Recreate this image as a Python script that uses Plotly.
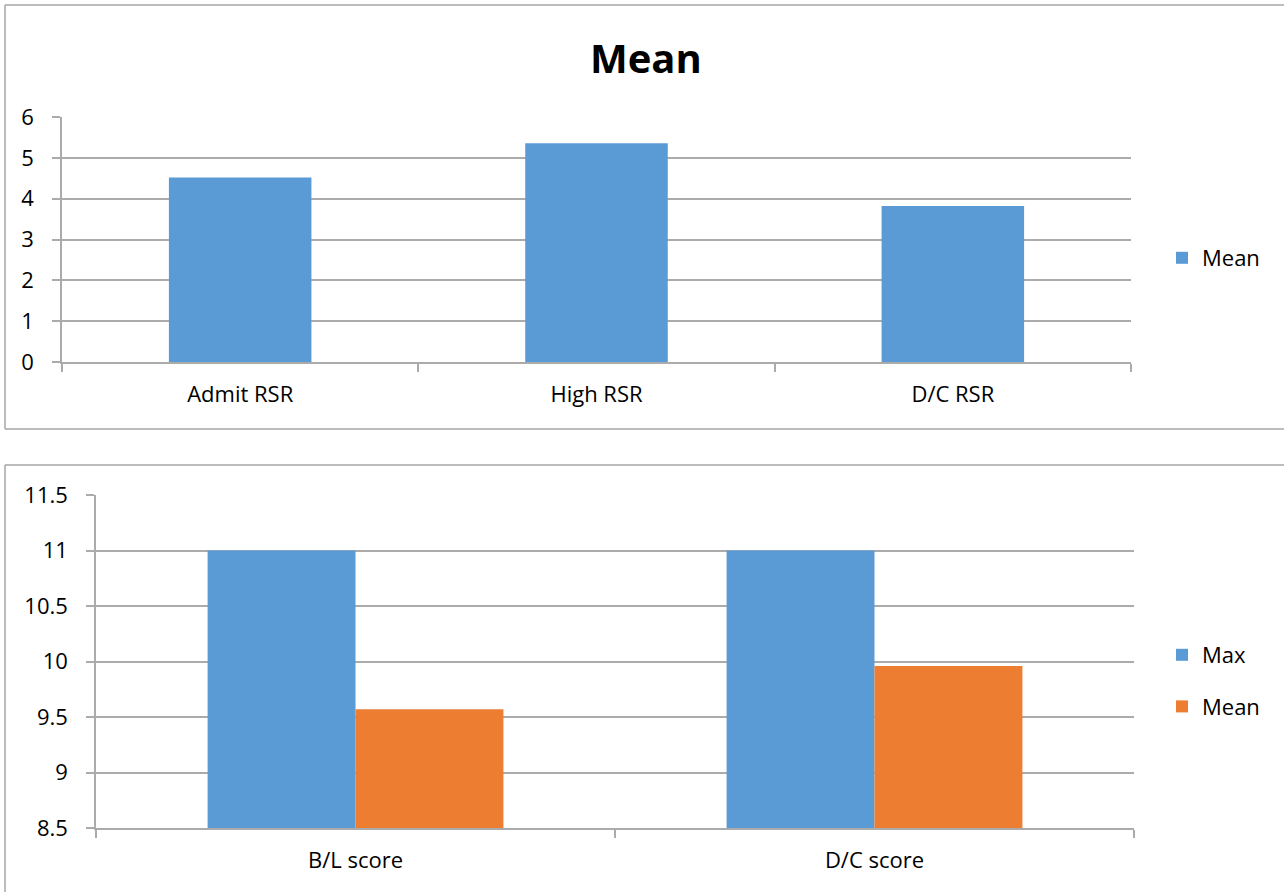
import plotly.graph_objects as go

# Top chart data
top_categories = ["Admit RSR", "High RSR", "D/C RSR"]
top_mean = [4.52, 5.36, 3.82]
top_ticks = [0, 1, 2, 3, 4, 5, 6]

# Bottom chart data
bottom_categories = ["B/L score", "D/C score"]
bottom_max = [11, 11]
bottom_mean = [9.57, 9.96]
bottom_ticks = [8.5, 9, 9.5, 10, 10.5, 11, 11.5]

W, H = 1284, 892
BLUE = "#5b9bd5"
ORANGE = "#ed7d31"
GRID = "#ababab"
BORDER = "#a6a6a6"
FONT = "Open Sans"
FS = 22


def px(x):
    return x / W


def py(y):
    return 1 - y / H


def hline(x0, x1, y):
    return dict(type="line", xref="paper", yref="paper", x0=px(x0), x1=px(x1),
                y0=py(y), y1=py(y), line=dict(color=BORDER, width=1.5))


def vline(x, y0, y1):
    return dict(type="line", xref="paper", yref="paper", x0=px(x), x1=px(x),
                y0=py(y0), y1=py(y1), line=dict(color=BORDER, width=1.5))


fig = go.Figure()

fig.add_trace(go.Bar(x=top_categories, y=top_mean, name="Mean", marker_color=BLUE,
                     marker_line_width=0, xaxis="x", yaxis="y", legend="legend"))
fig.add_trace(go.Bar(x=bottom_categories, y=bottom_max, name="Max", marker_color=BLUE,
                     marker_line_width=0, width=0.285, offset=-0.285, legendgroup="max",
                     xaxis="x2", yaxis="y2", legend="legend2"))
fig.add_trace(go.Bar(x=bottom_categories, y=bottom_mean, name="Mean", marker_color=ORANGE,
                     marker_line_width=0, width=0.285, offset=0, legendgroup="mean",
                     xaxis="x2", yaxis="y2", legend="legend2"))

axis_common = dict(showgrid=False, showline=True, linecolor=GRID, linewidth=1.5,
                   ticks="outside", tickcolor=GRID, ticklen=8, tickwidth=1.5,
                   automargin=False,
                   tickfont=dict(family=FONT, size=FS, color="black"))

yaxis_common = dict(showgrid=True, gridcolor=GRID, gridwidth=1.5, showline=True,
                    linecolor=GRID, linewidth=1.5, ticks="outside", tickcolor=GRID,
                    ticklen=8, tickwidth=1.5, zeroline=False, automargin=False,
                    tickfont=dict(family=FONT, size=FS, color="black"))

fig.update_layout(
    width=W, height=H, autosize=False,
    margin=dict(l=0, r=0, t=0, b=0, pad=0, autoexpand=False),
    paper_bgcolor="white", plot_bgcolor="white",
    barmode="group",
    bargap=0.6,
    showlegend=True,
    xaxis=dict(domain=[px(62), px(1131)], anchor="y", tickson="boundaries",
               ticklabelstandoff=12, **axis_common),
    yaxis=dict(domain=[py(362), py(117)], anchor="x", range=[0, 6], tickvals=top_ticks,
               ticklabelstandoff=14, **yaxis_common),
    xaxis2=dict(domain=[px(96), px(1134)], anchor="y2", tickson="boundaries",
                ticklabelstandoff=12, **axis_common),
    yaxis2=dict(domain=[py(828), py(495)], anchor="x2", range=[8.5, 11.5],
                tickvals=bottom_ticks, ticktext=[f"{v:g}" for v in bottom_ticks],
                ticklabelstandoff=14, **yaxis_common),
    legend=dict(x=px(1162), y=py(258), xanchor="left", yanchor="middle",
                xref="container", yref="container",
                font=dict(family=FONT, size=FS, color="black"), itemwidth=30,
                bgcolor="rgba(0,0,0,0)"),
    legend2=dict(x=px(1162), y=py(681), xanchor="left", yanchor="middle",
                 xref="container", yref="container",
                 font=dict(family=FONT, size=FS, color="black"), itemwidth=30,
                 tracegroupgap=20, bgcolor="rgba(0,0,0,0)"),
    annotations=[dict(text="<b>Mean</b>", x=px(646), y=py(57), xref="paper", yref="paper",
                      showarrow=False, xanchor="center", yanchor="middle",
                      font=dict(family=FONT, size=40, color="black"))],
    shapes=[
        hline(5, W, 5), hline(5, W, 429), vline(5, 5, 429),
        hline(5, W, 465), vline(5, 465, H),
    ],
)

fig.write_html(
    "out.html",
    config={"responsive": False, "displayModeBar": False},
    post_script="document.body.style.margin='0';document.body.style.overflow='hidden';",
)
